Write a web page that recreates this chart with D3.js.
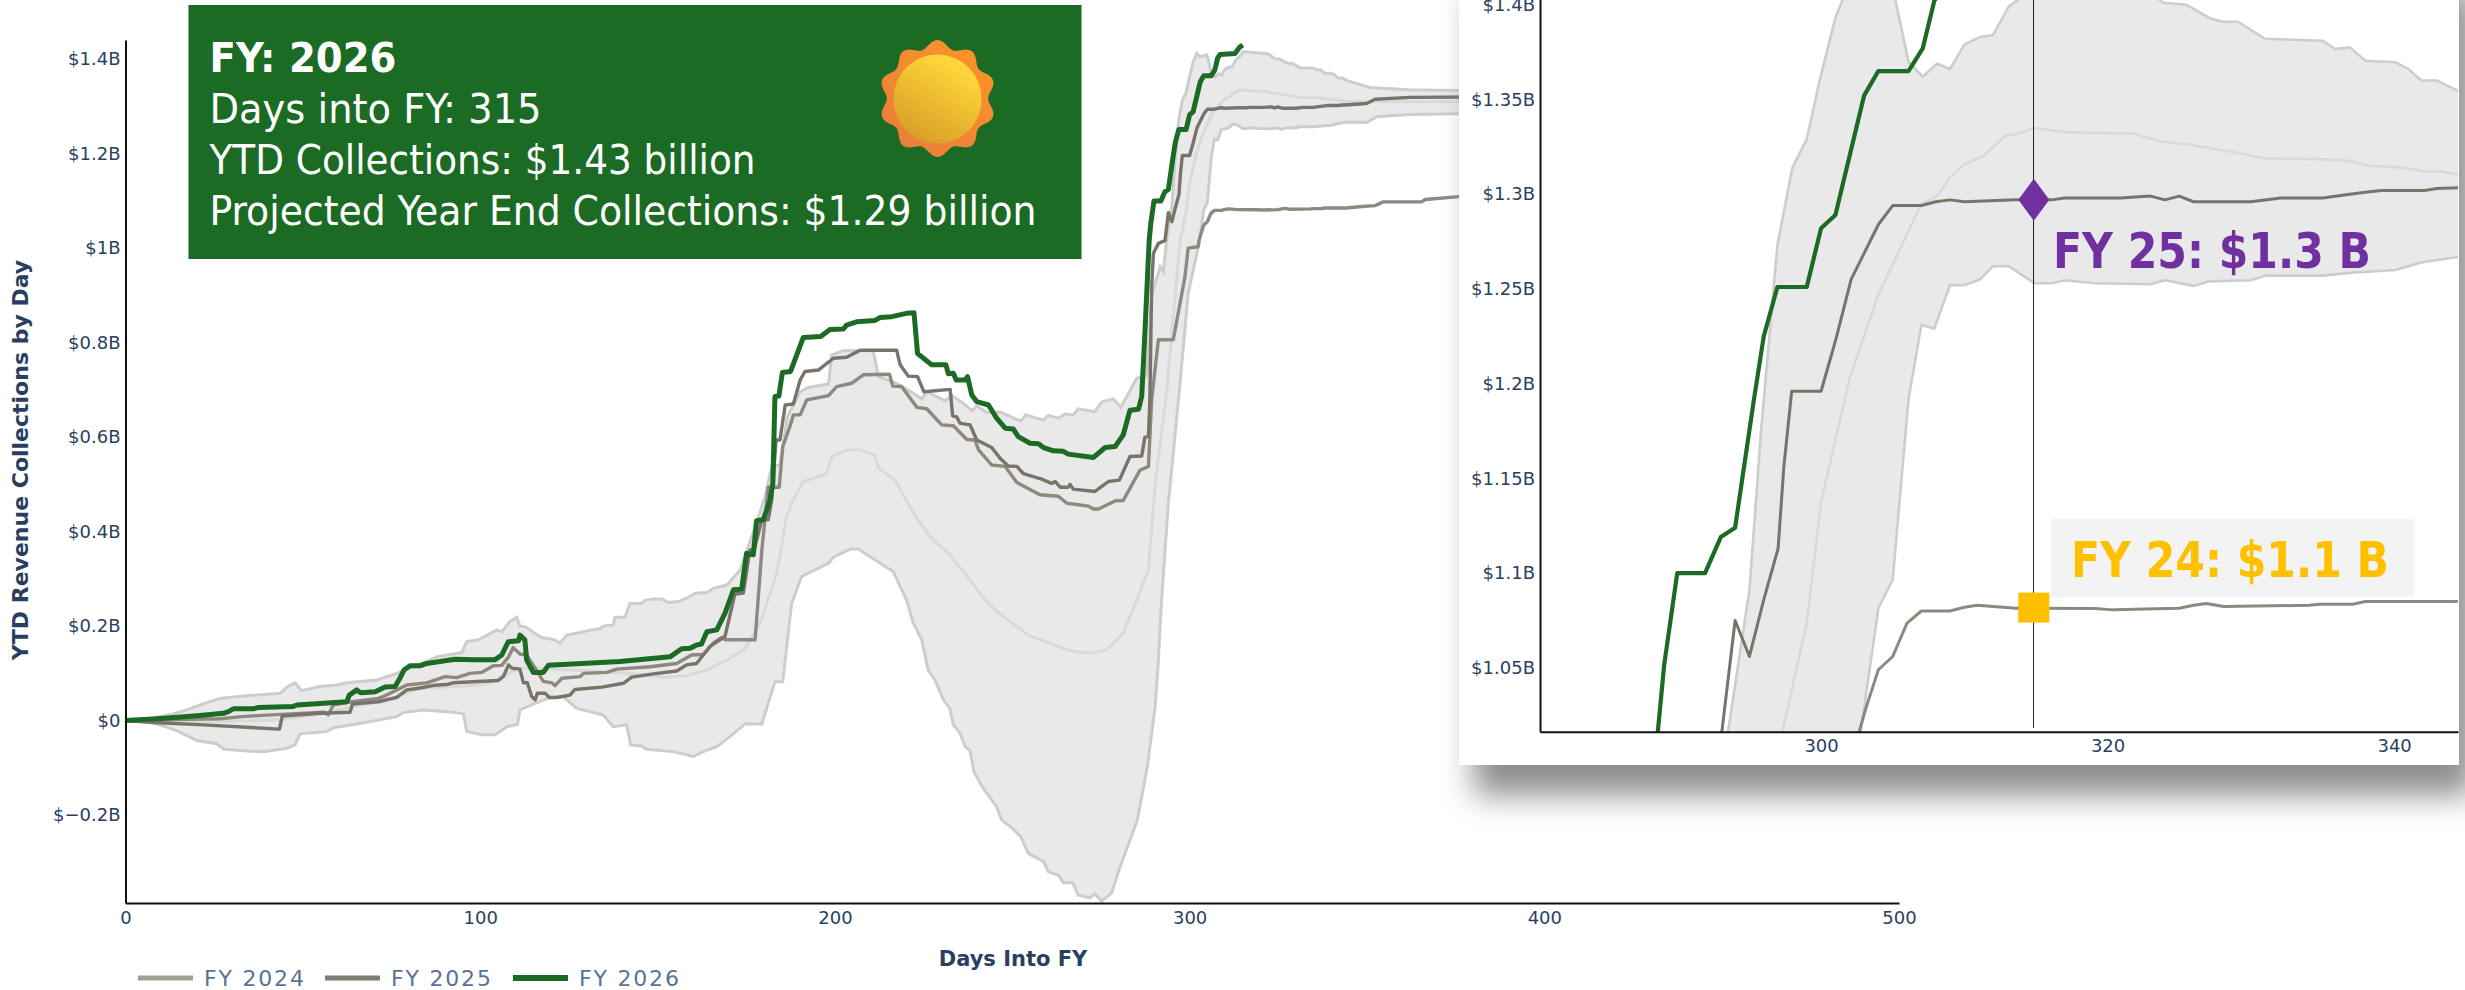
<!DOCTYPE html>
<html><head><meta charset="utf-8">
<script src="https://cdn.jsdelivr.net/npm/d3@7/dist/d3.min.js"></script>
<style>
html,body{margin:0;padding:0;background:#fff;width:2465px;height:990px;overflow:hidden}
#main{position:absolute;left:0;top:0}
#panel{position:absolute;left:1459px;top:-40px;width:1000px;height:805px;background:#fff;box-shadow:15px 30px 30px #8c8c8c}
#inset{position:absolute;left:0;top:0}
text{font-family:'DejaVu Sans',sans-serif}
.cond{font-family:'DejaVu Sans Condensed','DejaVu Sans',sans-serif;font-stretch:condensed}
</style></head><body>
<svg id="main" width="2465" height="990"></svg>
<div id="panel"><svg id="inset" width="1000" height="805"></svg></div>
<script>
const fy2026=[[0,0],[7.8,.0035],[14.9,.007],[21,.011],[27.6,.0155],[29,.019],[30.4,.025],[33.2,.025],[36,.025],[37.5,.028],[47.3,.03],[48.3,.033],[54.8,.036],[62.4,.04],[63.1,.054],[65.2,.065],[66.3,.059],[70.4,.061],[73.2,.071],[76,.072],[77.4,.09],[78.5,.107],[80.2,.116],[83,.116],[84.9,.121],[92.9,.13],[98.1,.129],[104.2,.129],[106.1,.139],[107.9,.167],[110.8,.169],[111.2,.181],[112.6,.171],[113.1,.128],[115,.102],[117.8,.102],[119.2,.117],[139.4,.125],[153.5,.135],[156.8,.152],[159.2,.153],[161,.16],[162.4,.162],[163.9,.188],[166.7,.192],[169,.227],[171.4,.277],[173.7,.278],[175.1,.354],[177,.351],[177.9,.423],[179.8,.425],[181.7,.467],[182.5,.502],[183.1,.686],[184.2,.687],[185.2,.737],[187.5,.739],[191.1,.811],[196,.813],[198.6,.828],[202.4,.829],[203.3,.837],[206.1,.844],[211.3,.847],[212.7,.853],[216,.855],[220.2,.862],[222.3,.863],[223.3,.777],[227.3,.753],[231.3,.753],[232,.734],[233.4,.735],[234.2,.721],[236.7,.721],[237.4,.728],[238.6,.689],[240,.675],[243.3,.668],[245.6,.64],[248,.619],[250.3,.617],[251.7,.601],[255,.587],[257.4,.586],[258.8,.578],[261.6,.571],[264.4,.57],[265.8,.564],[272.9,.557],[276.2,.578],[279,.58],[281.3,.605],[283.2,.657],[285.6,.659],[286.5,.686],[287.4,.82],[288.6,1.016],[289.05,1.0516],[289.96,1.1],[291.9,1.1],[293,1.119],[294,1.124],[295.3,1.191],[296,1.225],[296.95,1.251],[299,1.251],[300,1.282],[301,1.289],[303,1.352],[304,1.365],[306.1,1.365],[307.1,1.377],[307.9,1.402],[308.6,1.41],[312.8,1.412],[314.2,1.426],[315,1.43]];

const fy2025=[[0,0],[7.8,-.004],[22,-.009],[43.4,-.018],[44.2,.0099],[54.9,.0155],[63.3,.0176],[64,.035],[71.3,.04],[76.5,.049],[79.3,.065],[83,.069],[87.3,.075],[91,.077],[92.4,.08],[105.1,.085],[106.5,.093],[108,.118],[108.9,.111],[111.2,.109],[112.2,.08],[113.3,.08],[114.5,.051],[115.5,.044],[116.1,.058],[118.3,.058],[119.5,.049],[121.6,.049],[125.3,.054],[126.7,.066],[134.3,.071],[140.4,.079],[142.7,.092],[148.8,.099],[155.4,.105],[158.2,.118],[161,.121],[164.8,.157],[166.2,.164],[169,.178],[171.8,.268],[174.2,.27],[176,.361],[177.3,.363],[179.4,.425],[181.2,.425],[182.2,.467],[183.4,.594],[184.5,.594],[186,.668],[188.3,.67],[190.2,.721],[191.6,.739],[195.3,.742],[199.6,.767],[203.3,.769],[207.1,.784],[217.4,.784],[218.4,.753],[220.7,.729],[223.3,.728],[225.1,.696],[232.5,.701],[233.2,.645],[234.3,.643],[235.3,.629],[238.1,.626],[240,.594],[244.2,.578],[246.6,.555],[248.9,.539],[251.3,.538],[253.1,.523],[258.3,.511],[261.1,.502],[262.1,.506],[263.5,.494],[265.8,.494],[266.3,.5],[267.2,.49],[273.3,.485],[277.1,.506],[280.2,.509],[283.2,.559],[286.5,.56],[287.4,.6],[288.4,.601],[288.8,.679],[289.3,.918],[289.8,.989],[291.2,1.01],[293.07,1.016],[294,1.075],[295,1.056],[296,1.086],[297,1.113],[297.4,1.156],[297.95,1.196],[300,1.196],[301,1.2225],[302.1,1.255],[304,1.284],[305,1.294],[307,1.294],[308,1.296],[309,1.297],[310,1.296],[313.6,1.297],[316.1,1.297],[317,1.298],[320.9,1.298],[323,1.299],[324,1.297],[325,1.299],[326,1.296],[330,1.296],[332.1,1.298],[335,1.298],[336.9,1.3],[338,1.301],[339.1,1.302],[342.1,1.302],[343,1.303],[344.6,1.3035],[349.9,1.306],[352.3,1.315],[362.1,1.319],[380,1.32]];

const fy2024=[[0,0],[7.8,.0007],[17.2,.003],[26.6,.004],[32.8,.0085],[42.6,.0127],[55.8,.018],[57.2,.0127],[58.6,.033],[63.3,.0395],[71.3,.047],[73.6,.054],[79.3,.0755],[84.9,.08],[90.1,.093],[93.4,.091],[97.1,.1],[100.4,.102],[103.7,.116],[106.1,.117],[108,.135],[109.3,.1545],[111.2,.141],[113.1,.139],[115.5,.111],[117.8,.083],[120.2,.08],[121.1,.074],[123,.0896],[128.1,.093],[129.1,.1],[135.7,.102],[138.5,.109],[147.9,.114],[155.4,.121],[159.6,.139],[162.9,.14],[165.7,.164],[168.1,.176],[169.2,.171],[177.5,.171],[179.4,.361],[181.2,.494],[184.3,.494],[185.3,.58],[187.3,.622],[188.3,.647],[190.2,.647],[192.1,.679],[198.2,.688],[200.5,.707],[204.7,.714],[208,.732],[215.4,.733],[216.3,.708],[218.8,.707],[223.1,.663],[225.9,.66],[230.1,.626],[233.4,.624],[237.2,.595],[239.5,.594],[240.5,.573],[244.2,.541],[248,.538],[251.3,.504],[257.8,.478],[263,.475],[265.4,.46],[271.5,.454],[272.9,.448],[274.3,.448],[279,.465],[281.3,.466],[286,.53],[288.4,.538],[289.3,.679],[291.2,.806],[295.4,.806],[298.7,.94],[299.6,1.0],[302.4,1.003],[302.65,1.016],[303.1,1.028],[304,1.049],[305,1.056],[306,1.0736],[307,1.08],[309,1.08],[310,1.082],[310.9,1.083],[313.6,1.0815],[319.1,1.0813],[320.4,1.0806],[325,1.0815],[326,1.083],[326.9,1.084],[328.1,1.0824],[334.1,1.083],[334.8,1.0836],[337.1,1.0836],[338,1.085],[344.2,1.085],[348.5,1.088],[352.3,1.09],[354.6,1.098],[365.4,1.098],[366.4,1.103],[376,1.109],[380,1.11]];

const bandUpper=[[0,0],[7.8,.0056],[13.5,.014],[17.2,.0226],[21,.033],[26.6,.047],[33.2,.052],[43.6,.058],[46,.0734],[47.8,.08],[49.7,.0635],[54.8,.072],[59.5,.0755],[62.4,.08],[70.8,.086],[76.5,.1],[81.2,.114],[87.7,.135],[94.8,.144],[96.2,.167],[99.5,.171],[104.7,.192],[106.1,.188],[108.4,.21],[110.3,.219],[111.2,.2],[112.6,.199],[117.3,.176],[121.1,.171],[122.5,.164],[124.4,.181],[127.2,.185],[131.4,.192],[133.8,.195],[134.7,.2],[137.5,.2025],[138,.219],[140.8,.219],[142.2,.248],[145.5,.248],[146.5,.255],[148.8,.2575],[151.2,.2575],[153,.25],[155.9,.252],[158.2,.259],[160.6,.2695],[163.9,.271],[165.7,.28],[169.5,.287],[173.3,.319],[177.5,.41],[180.3,.474],[182.2,.538],[184.5,.541],[186.6,.643],[190.2,.696],[192.5,.705],[198.2,.7125],[199.1,.774],[202.4,.783],[210.8,.783],[212.3,.728],[217.4,.714],[222.1,.693],[224.5,.681],[225.9,.696],[231.1,.677],[233,.688],[236.2,.672],[238.6,.656],[240,.666],[242.8,.652],[246.6,.653],[252.4,.634],[253.8,.647],[258.8,.636],[260.2,.646],[263,.64],[264.9,.649],[267.2,.647],[268.6,.66],[273.3,.654],[275.2,.674],[278.5,.681],[280.6,.663],[285.1,.7245],[287.9,.73],[288.5,.8],[289.3,.9],[291.7,.961],[292.6,.95],[293.5,1.016],[295,1.091],[295.8,1.174],[296.95,1.273],[298,1.314],[299,1.329],[299.9,1.36],[301,1.393],[302,1.412],[302.9,1.405],[304.8,1.409],[305.2,1.402],[306.1,1.37],[307.1,1.362],[308.1,1.369],[309,1.366],[310,1.379],[311.1,1.383],[312,1.384],[313.1,1.399],[313.8,1.403],[315.2,1.416],[322.2,1.411],[323.9,1.401],[325.5,1.4],[327.1,1.393],[328,1.391],[329.1,1.391],[331,1.382],[335,1.381],[335.9,1.3766],[336.9,1.3775],[338,1.3704],[340.1,1.3696],[341,1.366],[341.9,1.36],[343,1.36],[344.6,1.354],[350.9,1.34],[361.7,1.335],[380,1.333]];

const bandLower=[[0,0],[7.8,-.004],[14.4,-.021],[20.1,-.042],[25.7,-.049],[27.6,-.06],[33.2,-.064],[38.9,-.066],[45.5,-.0586],[47.8,-.0515],[49.2,-.028],[56.7,-.023],[58.6,-.015],[66.1,-.006],[76.5,.0085],[78.3,.017],[84,.0226],[92.4,.0176],[95.3,.014],[96.2,-.023],[100.4,-.03],[104.2,-.03],[107.5,-.013],[110.5,-.008],[111.2,.0226],[115,.035],[119.7,.049],[123.4,.051],[127.2,.026],[134.7,.012],[137.5,-.0127],[141.3,-.009],[142.4,-.0515],[145.5,-.0536],[146.9,-.0607],[154.5,-.0656],[160.1,-.076],[162.9,-.0656],[166.7,-.055],[170.4,-.034],[174.7,-.007],[179.4,-.007],[183.1,.0825],[185.3,.0825],[187.8,.248],[190.6,.305],[198.2,.333],[199.6,.346],[204.3,.363],[206.6,.363],[216.5,.315],[220.2,.255],[222.1,.206],[224.5,.171],[226.3,.107],[228.2,.086],[230.6,.044],[232.4,.026],[233.4,-.009],[235.3,-.027],[236.7,-.055],[238.1,-.0635],[239.2,-.108],[241.8,-.143],[245.6,-.182],[247,-.21],[249.4,-.224],[252.4,-.2455],[254.5,-.281],[258.8,-.298],[260.2,-.32],[263,-.327],[264.4,-.343],[267,-.343],[268.6,-.369],[271.9,-.375],[273.3,-.367],[275.2,-.382],[278,-.365],[280.4,-.309],[285.3,-.21],[288.1,-.097],[290.3,.03],[291.2,.128],[292.1,.255],[294,.46],[295.4,.566],[297.3,.714],[299.6,.904],[302.65,1.01],[304,1.0815],[305,1.0965],[306.1,1.1916],[307,1.231],[307.9,1.229],[309,1.252],[310,1.252],[311.1,1.255],[312,1.262],[313.1,1.262],[314.9,1.253],[316.1,1.253],[317,1.2546],[319.1,1.253],[323,1.2525],[324,1.2546],[326,1.2516],[327.1,1.254],[330,1.2546],[331,1.257],[335,1.257],[337.1,1.2586],[340.1,1.26],[341.9,1.264],[344.6,1.267],[350,1.266],[352.7,1.278],[361.7,1.283],[380,1.285]];

const bandMean=[[0,0],[26,-.002],[44,.002],[55,.014],[64,.03],[72,.04],[78,.055],[83,.068],[95.2,.073],[101.8,.077],[108,.1],[111.2,.111],[115.9,.111],[128.1,.106],[143.2,.099],[151.6,.092],[158.2,.095],[163.9,.107],[169.5,.128],[174.7,.153],[178.9,.206],[183.6,.312],[186.4,.432],[188.3,.467],[191.1,.506],[197.7,.522],[199.1,.559],[203.3,.573],[207.1,.573],[211.3,.562],[212.3,.534],[217,.509],[222.1,.439],[226.8,.389],[232,.354],[238.1,.298],[241.9,.259],[245.6,.231],[254.5,.181],[264.4,.153],[267.7,.146],[271.9,.1425],[276.6,.1496],[281.3,.185],[285.1,.255],[288.4,.319],[290.3,.502],[293.5,.693],[297.3,1.016],[299,1.0736],[300,1.1376],[302,1.203],[304,1.247],[306.1,1.2806],[307,1.2947],[308.1,1.299],[309,1.3088],[310,1.3158],[311.3,1.32],[312.9,1.331],[313.8,1.332],[314.9,1.335],[317.2,1.3326],[321.8,1.332],[323.6,1.328],[325.9,1.326],[328.9,1.322],[331,1.319],[334.8,1.3185],[336.9,1.3176],[338.2,1.315],[340.7,1.314],[342.1,1.312],[343.3,1.312],[344.6,1.31],[352,1.31],[380,1.31]];

const legendNames=["FY 2024","FY 2025","FY 2026"];
const mainXTicks=[0,100,200,300,400,500];
const mainYTicks=[-0.2,0,0.2,0.4,0.6,0.8,1,1.2,1.4];
const insetXTicks=[300,320,340];
const insetYTicks=[1.05,1.1,1.15,1.2,1.25,1.3,1.35,1.4];
const markerDay=314.85, fy25AtDay=1.297, fy24AtDay=1.0818;
const infoLines=["FY: 2026","Days into FY: 315","YTD Collections: $1.43 billion","Projected Year End Collections: $1.29 billion"];
const fy25Label="FY 25: $1.3 B", fy24Label="FY 24: $1.1 B";

const C={band:"#cdcdcd",fill:"#e9e9e9",mean:"#d9d9d9",y24:"#8f887e",y25:"#7a7369",y26:"#1b6b25",tick:"#2a3f5f"};
const fmt=v=>v===0?"$0":"$"+(v<0?"\u2212":"")+Math.abs(v)+"B";

function drawPlot(g,x,y,sw,id){
  g.append("clipPath").attr("id",id).append("rect")
    .attr("x",x.range()[0]).attr("y",y.range()[1]).attr("width",x.range()[1]-x.range()[0]).attr("height",y.range()[0]-y.range()[1]);
  const p=g.append("g").attr("clip-path",`url(#${id})`);
  const line=d3.line().x(d=>x(d[0])).y(d=>y(d[1]));
  p.append("path").attr("d",line(bandUpper.concat(bandLower.slice().reverse()))+"Z").attr("fill",C.fill);
  p.append("path").attr("d",line(bandMean)).attr("fill","none").attr("stroke",C.mean).attr("stroke-width",sw.band);
  p.append("path").attr("d",line(bandUpper)).attr("fill","none").attr("stroke",C.band).attr("stroke-width",sw.band);
  p.append("path").attr("d",line(bandLower)).attr("fill","none").attr("stroke",C.band).attr("stroke-width",sw.band);
  p.append("path").attr("d",line(fy2024)).attr("fill","none").attr("stroke",C.y24).attr("stroke-width",sw.fy).attr("stroke-linejoin","round");
  p.append("path").attr("d",line(fy2025)).attr("fill","none").attr("stroke",C.y25).attr("stroke-width",sw.fy).attr("stroke-linejoin","round");
  p.append("path").attr("d",line(fy2026)).attr("fill","none").attr("stroke",C.y26).attr("stroke-width",sw.g).attr("stroke-linejoin","round");
}
function drawAxes(g,x,y,xt,yt,fs,pad,bottomGap){
  const ax=g.append("g").attr("transform",`translate(0,${y.range()[0]})`)
    .call(d3.axisBottom(x).tickValues(xt).tickFormat(d3.format("d")).tickSize(0).tickPadding(bottomGap));
  const ay=g.append("g").attr("transform",`translate(${x.range()[0]},0)`)
    .call(d3.axisLeft(y).tickValues(yt).tickFormat(fmt).tickSize(0).tickPadding(pad));
  [ax,ay].forEach(a=>{
    a.selectAll("text").attr("fill",C.tick).style("font-size",fs+"px").style("font-family","'DejaVu Sans',sans-serif");
    a.select(".domain").attr("stroke","#111").attr("stroke-width",2);
  });
}

/* main chart */
const svg=d3.select("#main");
const x=d3.scaleLinear().domain([0,500]).range([125.5,1899]);
const y=d3.scaleLinear().domain([-0.386,1.4405]).range([903,40]);
drawPlot(svg,x,y,{band:3,fy:3.4,g:5},"clipMain");
drawAxes(svg,x,y,mainXTicks,mainYTicks,18,5,8);

svg.append("text").attr("transform","translate(28,460) rotate(-90)").attr("text-anchor","middle")
  .attr("font-weight","bold").attr("font-size",22).attr("fill","#2a3f5f").text("YTD Revenue Collections by Day");
svg.append("text").attr("x",1013).attr("y",966).attr("text-anchor","middle")
  .attr("font-weight","bold").attr("font-size",21).attr("fill","#2a3f5f").text("Days Into FY");

/* legend */
const legendColors=["#a49e95","#837c73",C.y26], legendSW=[5,5,6], legendX=[138,325,513];
legendNames.forEach((n,i)=>{
  svg.append("line").attr("x1",legendX[i]).attr("x2",legendX[i]+55).attr("y1",978).attr("y2",978).attr("stroke",legendColors[i]).attr("stroke-width",legendSW[i]);
  svg.append("text").attr("x",legendX[i]+66).attr("y",986).attr("font-size",22).attr("letter-spacing","1.8px").attr("fill","#5b7393").text(n);
});

/* info box */
svg.append("rect").attr("x",188.5).attr("y",5).attr("width",893).attr("height",254).attr("fill","#1b6b25");
const infoY=[71.5,122.5,173.5,225], infoW=[187,332,546,827];
infoLines.forEach((t,i)=>{
  svg.append("text").attr("class","cond").attr("x",209.5).attr("y",infoY[i]).attr("font-size",41)
    .attr("font-weight",i?"normal":"bold").attr("fill","#fff")
    .attr("textLength",infoW[i]).attr("lengthAdjust","spacingAndGlyphs").text(t);
});

/* sun icon */
const defs=svg.append("defs");
const g1=defs.append("linearGradient").attr("id","sunOut").attr("x1","0.8").attr("y1","0.1").attr("x2","0.2").attr("y2","0.9");
g1.append("stop").attr("offset","0").attr("stop-color","#fb9228");g1.append("stop").attr("offset","1").attr("stop-color","#ea7f3a");
const g2=defs.append("linearGradient").attr("id","sunIn").attr("x1","0.75").attr("y1","0.15").attr("x2","0.3").attr("y2","0.95");
g2.append("stop").attr("offset","0").attr("stop-color","#ffd639");g2.append("stop").attr("offset","1").attr("stop-color","#d9a028");
const sunG=svg.append("g").attr("transform","translate(937.5,98.5)");
const radial=d3.lineRadial().curve(d3.curveLinearClosed);
sunG.append("path").attr("d",radial(d3.range(0,240).map(i=>{const t=i/240*2*Math.PI;return [t,(54.5+3.9*Math.cos(10*t))];})))
  .attr("fill","url(#sunOut)");
sunG.append("ellipse").attr("cx",0).attr("cy",0.5).attr("rx",44).attr("ry",44.5).attr("fill","url(#sunIn)");

/* inset: panel offset so that page y = svg y - 40, page x = svg x + 1459 */
const ins=d3.select("#inset");
const xi=d3.scaleLinear().domain([280.38,344.46]).range([1540-1459,2458-1459]);
const yi=d3.scaleLinear().domain([1.0163,1.4236]).range([731.7+40,0]);
drawPlot(ins,xi,yi,{band:2.6,fy:3,g:4.2},"clipInset");
drawAxes(ins,xi,yi,insetXTicks,insetYTicks,18,5,8);

const dx=xi(markerDay);
ins.append("line").attr("x1",dx).attr("x2",dx).attr("y1",0).attr("y2",768).attr("stroke","#0f2f1f").attr("stroke-width",1).attr("shape-rendering","crispEdges");
ins.append("path").attr("transform",`translate(${dx},${yi(fy25AtDay)})`).attr("d","M0,-21L15.5,0L0,21L-15.5,0Z").attr("fill","#7030a0");
ins.append("rect").attr("x",dx-15.5).attr("y",yi(fy24AtDay)-15).attr("width",31).attr("height",30).attr("fill","#ffc000");
ins.append("rect").attr("x",2051-1459).attr("y",519+40).attr("width",363).attr("height",78).attr("fill","#f3f3f3");
ins.append("text").attr("class","cond").attr("x",2053-1459).attr("y",268+40).attr("font-size",50).attr("font-weight","bold").attr("fill","#7030a0")
  .attr("textLength",318).attr("lengthAdjust","spacingAndGlyphs").text(fy25Label);
ins.append("text").attr("class","cond").attr("x",2071-1459).attr("y",577+40).attr("font-size",50).attr("font-weight","bold").attr("fill","#ffc000")
  .attr("textLength",318).attr("lengthAdjust","spacingAndGlyphs").text(fy24Label);
</script>
</body></html>
